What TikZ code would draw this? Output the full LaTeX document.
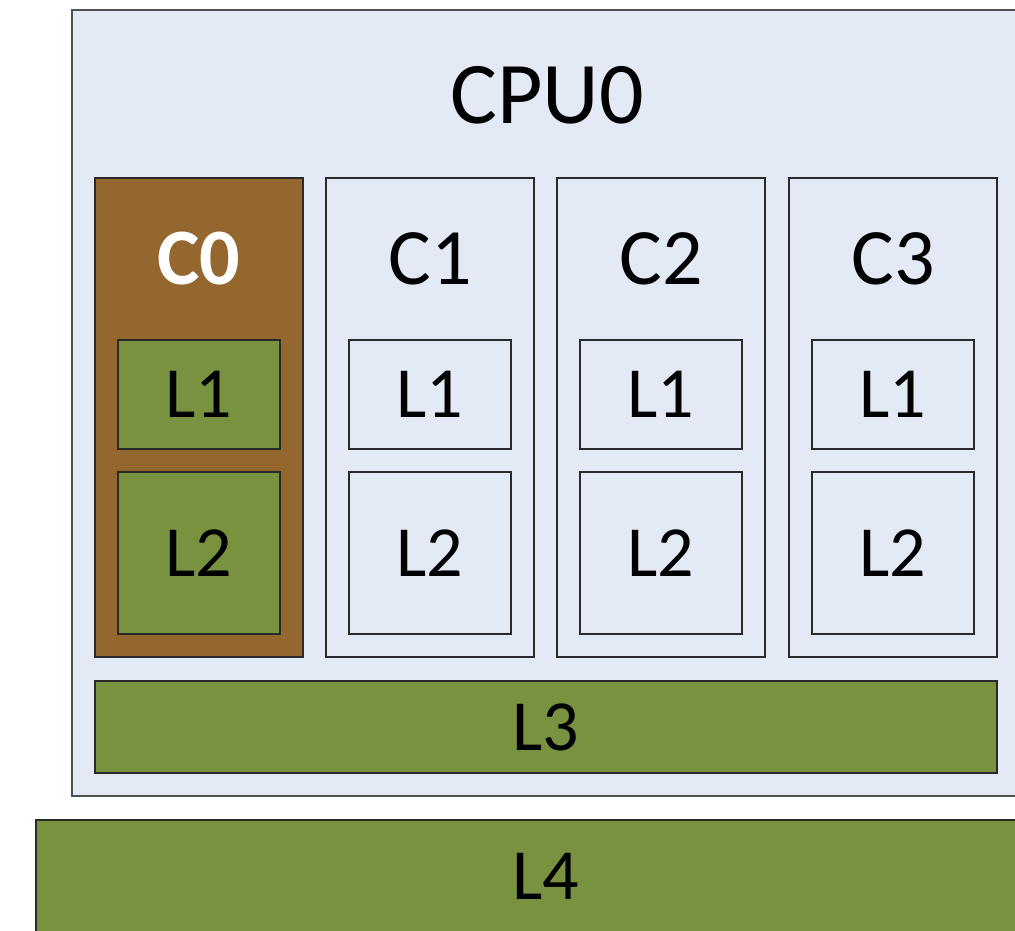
\documentclass[tikz,border=0pt]{standalone}
\usepackage{fontspec}
\setmainfont{Carlito}
\definecolor{paneblue}{HTML}{E3E9F5}
\definecolor{corebrown}{HTML}{94672F}
\definecolor{cachegreen}{HTML}{79923F}
\definecolor{edgegray}{HTML}{505050}
\definecolor{edgedark}{HTML}{2A2A2A}
\tikzset{
  unit/.style={draw=edgedark, line width=1.5pt, rectangle, inner sep=0pt, anchor=center},
  pane/.style={unit, fill=paneblue},
  hot/.style={unit, fill=corebrown},
  cache/.style={unit, fill=cachegreen},
  core/.style={minimum width=208pt, minimum height=479pt},
  lone/.style={minimum width=162pt, minimum height=109pt},
  ltwo/.style={minimum width=162pt, minimum height=162pt},
  big/.style={font=\fontsize{88}{100}\selectfont},
  mid/.style={font=\fontsize{80}{90}\selectfont},
  small/.style={font=\fontsize{72}{80}\selectfont},
}
\begin{document}
\begin{tikzpicture}[x=1pt,y=-1pt]
\useasboundingbox (0,0) rectangle (1015,931);
\clip (0,0) rectangle (1015,931);
% package outline and shared caches
\node[pane, draw=edgegray, minimum width=950pt, minimum height=786pt] (cpu) at (547,403) {};
\node[big] (cpulabel) at (547,95) {CPU0};
\node[cache, small, minimum width=902pt, minimum height=92pt] (l3) at (546,727) {L3};
\node[cache, small, minimum width=1020pt, minimum height=112pt] (l4) at (546,876) {L4};
% active core
\node[hot, core] (c0) at (199,417.5) {};
\node[text=white, font=\fontsize{80}{90}\selectfont\bfseries] (c0label) at (199,259) {C0};
\node[cache, lone, small] (c0l1) at (199,394.5) {L1};
\node[cache, ltwo, small] (c0l2) at (199,553) {L2};
% idle cores
\foreach \name/\cx in {1/430, 2/661, 3/893}{
  \node[pane, core] (c\name) at (\cx,417.5) {};
  \node[mid] (c\name label) at (\cx,259) {C\name};
  \node[pane, lone, small] (c\name l1) at (\cx,394.5) {L1};
  \node[pane, ltwo, small] (c\name l2) at (\cx,553) {L2};
}
\end{tikzpicture}
\end{document}
